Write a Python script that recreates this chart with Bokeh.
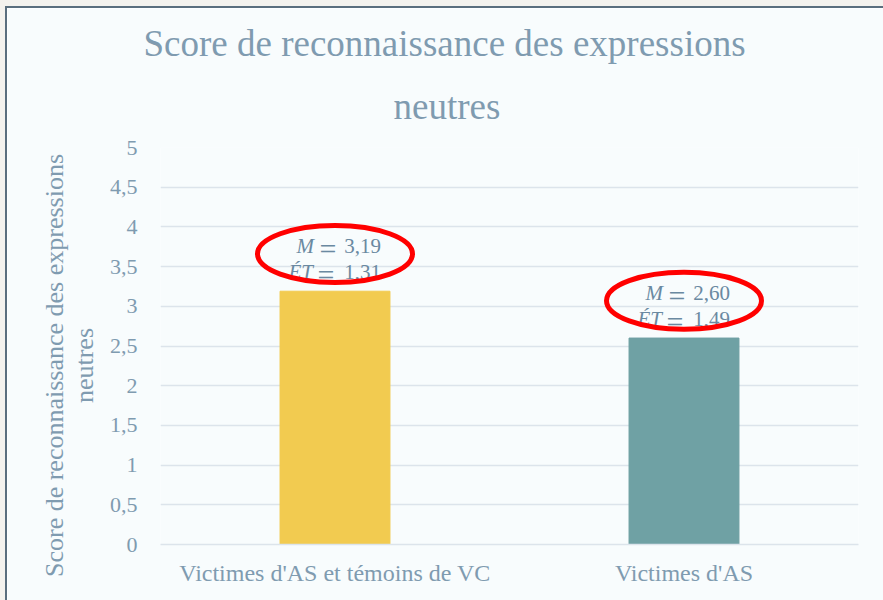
from bokeh.plotting import figure
from bokeh.models import ColumnDataSource, FixedTicker, CustomJSTickFormatter, Title
from bokeh.core.properties import value
from bokeh.embed import file_html
from bokeh.resources import INLINE

# ---- data ----
categories = ["Victimes d'AS et témoins de VC", "Victimes d'AS"]
means = [3.19, 2.60]
sds = [1.31, 1.49]
bar_colors = ["#F2CB50", "#6FA1A4"]
y_ticks = [0, 0.5, 1, 1.5, 2, 2.5, 3, 3.5, 4, 4.5, 5]
title_line1 = "Score de reconnaissance des expressions"
title_line2 = "neutres"
y_label_lines = ["Score de reconnaissance des expressions", "neutres"]

def fr(v):
    return f"{v:.2f}".replace(".", ",")

src = ColumnDataSource(dict(
    cat=categories,
    mean=means,
    color=bar_colors,
    ell_y=[m + 0.47 for m in means],
    m_val=[fr(m) for m in means],
    sd_val=[fr(s) for s in sds],
    eq=["=" for _ in means],
    m_lab=["M" for _ in means],
    sd_lab=["ÉT" for _ in means],
))

FONT = "Liberation Serif"
TXT = "#7F9BB0"
ANN = "#6A89A1"
GRID = "#DCE4EB"
BG = "#F8FCFD"

p = figure(x_range=categories, y_range=(0, 5), width=876, height=592,
           output_backend="svg", toolbar_location=None,
           min_border_left=153, min_border_right=25,
           min_border_top=139, min_border_bottom=56)
p.styles = {"margin-left": "7px", "margin-top": "8px",
            "outline": "2px solid #5A6E7E",
            "box-shadow": "0 0 0 8px #F4F2EE"}
p.background_fill_color = BG
p.border_fill_color = BG
p.outline_line_color = None

# title: two lines, centred on the whole chart area
p.title.text = title_line1
p.title.align = "left"
p.title.offset = -17
p.title.text_font = FONT
p.title.text_font_size = "37px"
p.title.text_font_style = "normal"
p.title.text_color = TXT
p.title.standoff = 0
t2 = Title(text=title_line2, align="left", offset=233, text_font=FONT,
           text_font_size="37px", text_font_style="normal", text_color=TXT,
           text_line_height=0.9, standoff=41)
p.add_layout(t2, "above")

p.vbar(x="cat", top="mean", width=0.315, color="color", source=src)

# annotation texts
common = dict(text_font=value(FONT), text_font_size="21px", text_color=ANN,
              text_baseline="alphabetic", source=src)
p.text(x="cat", y="mean", text="m_lab", x_offset=-21, y_offset=-45,
       text_align="right", text_font_style="italic", **common)
p.text(x="cat", y="mean", text="sd_lab", x_offset=-22, y_offset=-19,
       text_align="right", text_font_style="italic", **common)
p.text(x="cat", y="mean", text="m_val", x_offset=46, y_offset=-45,
       text_align="right", **common)
p.text(x="cat", y="mean", text="sd_val", x_offset=46, y_offset=-19,
       text_align="right", **common)
eqc = dict(common)
eqc["text_font_size"] = "30px"
p.text(x="cat", y="mean", text="eq", x_offset=-7, y_offset=-43,
       text_align="center", **eqc)
p.text(x="cat", y="mean", text="eq", x_offset=-9, y_offset=-17,
       text_align="center", **eqc)

p.ellipse(x="cat", y="ell_y", width=155, height=57, width_units="screen",
          height_units="screen", fill_alpha=0, line_color="#FF0000",
          line_width=5, source=src)

# axes
pad = "\u00a0" * 6
p.yaxis.ticker = FixedTicker(ticks=y_ticks)
p.yaxis.formatter = CustomJSTickFormatter(code="return tick.toString().replace('.', ',');")
p.yaxis.axis_line_color = None
p.yaxis.major_tick_line_color = None
p.yaxis.major_tick_out = 0
p.yaxis.major_tick_in = 0
p.yaxis.minor_tick_line_color = None
p.yaxis.major_label_text_font = FONT
p.yaxis.major_label_text_font_size = "22px"
p.yaxis.major_label_text_color = TXT
p.yaxis.major_label_standoff = 23
p.yaxis.axis_label = "\n".join(l + pad for l in y_label_lines)
p.yaxis.axis_label_text_font = FONT
p.yaxis.axis_label_text_font_size = "26px"
p.yaxis.axis_label_text_font_style = "normal"
p.yaxis.axis_label_text_color = TXT
p.yaxis.axis_label_text_line_height = 1.03
p.yaxis.axis_label_standoff = 8

p.xaxis.axis_line_color = GRID
p.xaxis.axis_line_width = 1.5
p.xaxis.major_tick_line_color = None
p.xaxis.major_tick_out = 0
p.xaxis.major_tick_in = 0
p.xaxis.minor_tick_line_color = None
p.xaxis.major_label_text_font = FONT
p.xaxis.major_label_text_font_size = "24px"
p.xaxis.major_label_text_color = TXT
p.xaxis.major_label_standoff = 15

p.xgrid.grid_line_color = None
p.ygrid.grid_line_color = GRID
p.ygrid.grid_line_width = 1.5

open("out.html", "w").write(file_html(p, INLINE))
